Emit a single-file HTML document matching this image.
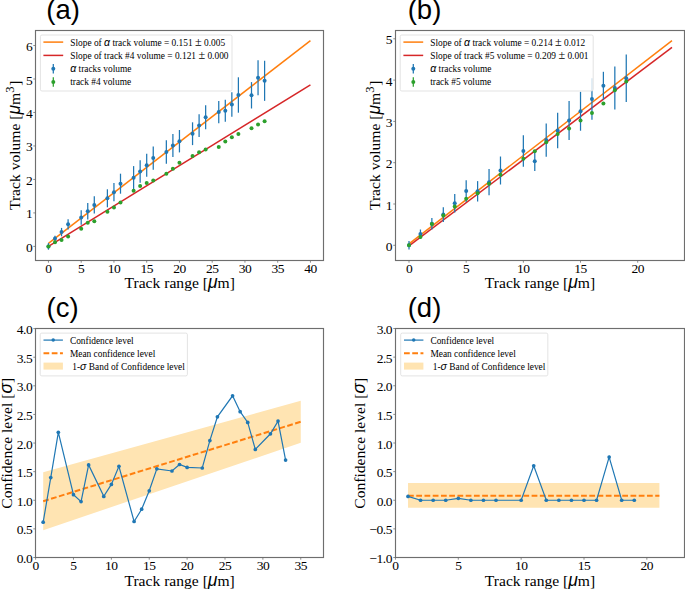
<!DOCTYPE html><html><head><meta charset="utf-8"><style>
html,body{margin:0;padding:0;background:#fff;overflow:hidden;}
svg{display:block;}
.tk{font-family:'Liberation Serif', serif;font-size:13.5px;fill:#000;}
.lb{font-family:'Liberation Serif', serif;font-size:15.6px;fill:#000;}
.lg{font-family:'Liberation Serif', serif;font-size:9.4px;fill:#000;}
.gk{font-family:'Liberation Sans', sans-serif;font-style:italic;font-size:1.12em;}
.pm{font-size:1.3em;}
.tk{letter-spacing:-0.5px;}
.tt{font-family:'Liberation Sans', sans-serif;font-size:27.5px;fill:#000;}
</style></head><body>
<svg width="685" height="589" viewBox="0 0 685 589">
<rect width="685" height="589" fill="#fff"/>
<polyline points="48.45,243.39 310.45,40.63" fill="none" stroke="#ff7f0e" stroke-width="1.5" />
<polyline points="48.45,246.4 310.45,84.89" fill="none" stroke="#d62728" stroke-width="1.5" />
<line x1="48.45" y1="243.1" x2="48.45" y2="249.7" stroke="#1f77b4" stroke-width="1.25"/>
<circle cx="48.45" cy="246.4" r="2.0" fill="#1f77b4"/>
<line x1="55" y1="235.8" x2="55" y2="241.2" stroke="#1f77b4" stroke-width="1.25"/>
<circle cx="55" cy="238.5" r="2.0" fill="#1f77b4"/>
<line x1="61.55" y1="227.9" x2="61.55" y2="236.3" stroke="#1f77b4" stroke-width="1.25"/>
<circle cx="61.55" cy="232.1" r="2.0" fill="#1f77b4"/>
<line x1="68.1" y1="219.2" x2="68.1" y2="229.4" stroke="#1f77b4" stroke-width="1.25"/>
<circle cx="68.1" cy="224.3" r="2.0" fill="#1f77b4"/>
<line x1="81.2" y1="210.21" x2="81.2" y2="224.81" stroke="#1f77b4" stroke-width="1.25"/>
<circle cx="81.2" cy="217.51" r="2.0" fill="#1f77b4"/>
<line x1="87.75" y1="202.91" x2="87.75" y2="219.51" stroke="#1f77b4" stroke-width="1.25"/>
<circle cx="87.75" cy="211.21" r="2.0" fill="#1f77b4"/>
<line x1="94.3" y1="196.18" x2="94.3" y2="213.58" stroke="#1f77b4" stroke-width="1.25"/>
<circle cx="94.3" cy="204.88" r="2.0" fill="#1f77b4"/>
<line x1="107.4" y1="189.29" x2="107.4" y2="207.29" stroke="#1f77b4" stroke-width="1.25"/>
<circle cx="107.4" cy="198.29" r="2.0" fill="#1f77b4"/>
<line x1="113.95" y1="183.05" x2="113.95" y2="201.35" stroke="#1f77b4" stroke-width="1.25"/>
<circle cx="113.95" cy="192.2" r="2.0" fill="#1f77b4"/>
<line x1="120.5" y1="173.69" x2="120.5" y2="193.69" stroke="#1f77b4" stroke-width="1.25"/>
<circle cx="120.5" cy="183.69" r="2.0" fill="#1f77b4"/>
<line x1="133.6" y1="166.1" x2="133.6" y2="189.5" stroke="#1f77b4" stroke-width="1.25"/>
<circle cx="133.6" cy="177.8" r="2.0" fill="#1f77b4"/>
<line x1="140.15" y1="160.15" x2="140.15" y2="182.65" stroke="#1f77b4" stroke-width="1.25"/>
<circle cx="140.15" cy="171.4" r="2.0" fill="#1f77b4"/>
<line x1="146.7" y1="153.76" x2="146.7" y2="176.86" stroke="#1f77b4" stroke-width="1.25"/>
<circle cx="146.7" cy="165.31" r="2.0" fill="#1f77b4"/>
<line x1="153.25" y1="146.41" x2="153.25" y2="169.81" stroke="#1f77b4" stroke-width="1.25"/>
<circle cx="153.25" cy="158.11" r="2.0" fill="#1f77b4"/>
<line x1="166.35" y1="140.24" x2="166.35" y2="163.74" stroke="#1f77b4" stroke-width="1.25"/>
<circle cx="166.35" cy="151.99" r="2.0" fill="#1f77b4"/>
<line x1="172.9" y1="133.94" x2="172.9" y2="157.04" stroke="#1f77b4" stroke-width="1.25"/>
<circle cx="172.9" cy="145.49" r="2.0" fill="#1f77b4"/>
<line x1="179.45" y1="130.01" x2="179.45" y2="152.41" stroke="#1f77b4" stroke-width="1.25"/>
<circle cx="179.45" cy="141.21" r="2.0" fill="#1f77b4"/>
<line x1="192.55" y1="122.31" x2="192.55" y2="145.11" stroke="#1f77b4" stroke-width="1.25"/>
<circle cx="192.55" cy="133.71" r="2.0" fill="#1f77b4"/>
<line x1="199.1" y1="114.25" x2="199.1" y2="136.95" stroke="#1f77b4" stroke-width="1.25"/>
<circle cx="199.1" cy="125.6" r="2.0" fill="#1f77b4"/>
<line x1="205.65" y1="105.15" x2="205.65" y2="129.25" stroke="#1f77b4" stroke-width="1.25"/>
<circle cx="205.65" cy="117.2" r="2.0" fill="#1f77b4"/>
<line x1="218.75" y1="100.91" x2="218.75" y2="123.31" stroke="#1f77b4" stroke-width="1.25"/>
<circle cx="218.75" cy="112.11" r="2.0" fill="#1f77b4"/>
<line x1="225.3" y1="99.76" x2="225.3" y2="121.86" stroke="#1f77b4" stroke-width="1.25"/>
<circle cx="225.3" cy="110.81" r="2.0" fill="#1f77b4"/>
<line x1="231.85" y1="92.36" x2="231.85" y2="116.66" stroke="#1f77b4" stroke-width="1.25"/>
<circle cx="231.85" cy="104.51" r="2.0" fill="#1f77b4"/>
<line x1="238.4" y1="77.3" x2="238.4" y2="112.7" stroke="#1f77b4" stroke-width="1.25"/>
<circle cx="238.4" cy="95" r="2.0" fill="#1f77b4"/>
<line x1="251.5" y1="82.1" x2="251.5" y2="108.5" stroke="#1f77b4" stroke-width="1.25"/>
<circle cx="251.5" cy="95.3" r="2.0" fill="#1f77b4"/>
<line x1="258.05" y1="60.24" x2="258.05" y2="95.34" stroke="#1f77b4" stroke-width="1.25"/>
<circle cx="258.05" cy="77.79" r="2.0" fill="#1f77b4"/>
<line x1="264.6" y1="60.76" x2="264.6" y2="100.86" stroke="#1f77b4" stroke-width="1.25"/>
<circle cx="264.6" cy="80.81" r="2.0" fill="#1f77b4"/>
<circle cx="48.45" cy="246.4" r="2.0" fill="#2ca02c"/>
<circle cx="55" cy="242.32" r="2.0" fill="#2ca02c"/>
<circle cx="61.55" cy="240.01" r="2.0" fill="#2ca02c"/>
<circle cx="68.1" cy="236.49" r="2.0" fill="#2ca02c"/>
<circle cx="81.2" cy="228.69" r="2.0" fill="#2ca02c"/>
<circle cx="87.75" cy="222.7" r="2.0" fill="#2ca02c"/>
<circle cx="94.3" cy="221.29" r="2.0" fill="#2ca02c"/>
<circle cx="107.4" cy="211.82" r="2.0" fill="#2ca02c"/>
<circle cx="113.95" cy="207.4" r="2.0" fill="#2ca02c"/>
<circle cx="120.5" cy="202.41" r="2.0" fill="#2ca02c"/>
<circle cx="133.6" cy="190.69" r="2.0" fill="#2ca02c"/>
<circle cx="140.15" cy="186.1" r="2.0" fill="#2ca02c"/>
<circle cx="146.7" cy="182.99" r="2.0" fill="#2ca02c"/>
<circle cx="153.25" cy="180.51" r="2.0" fill="#2ca02c"/>
<circle cx="166.35" cy="173.71" r="2.0" fill="#2ca02c"/>
<circle cx="172.9" cy="168.69" r="2.0" fill="#2ca02c"/>
<circle cx="179.45" cy="162.63" r="2.0" fill="#2ca02c"/>
<circle cx="192.55" cy="155.9" r="2.0" fill="#2ca02c"/>
<circle cx="199.1" cy="152.19" r="2.0" fill="#2ca02c"/>
<circle cx="205.65" cy="149.51" r="2.0" fill="#2ca02c"/>
<circle cx="218.75" cy="147" r="2.0" fill="#2ca02c"/>
<circle cx="225.3" cy="141.61" r="2.0" fill="#2ca02c"/>
<circle cx="231.85" cy="137.19" r="2.0" fill="#2ca02c"/>
<circle cx="238.4" cy="134.07" r="2.0" fill="#2ca02c"/>
<circle cx="251.5" cy="128.22" r="2.0" fill="#2ca02c"/>
<circle cx="258.05" cy="124.4" r="2.0" fill="#2ca02c"/>
<circle cx="264.6" cy="121.29" r="2.0" fill="#2ca02c"/>
<rect x="35.5" y="30.5" width="288" height="230" fill="none" stroke="#6e6e6e" stroke-width="1.15"/>
<line x1="48.45" y1="260.5" x2="48.45" y2="262.7" stroke="#6e6e6e" stroke-width="0.8"/>
<text x="48.45" y="272.8" text-anchor="middle" class="tk">0</text>
<line x1="81.2" y1="260.5" x2="81.2" y2="262.7" stroke="#6e6e6e" stroke-width="0.8"/>
<text x="81.2" y="272.8" text-anchor="middle" class="tk">5</text>
<line x1="113.95" y1="260.5" x2="113.95" y2="262.7" stroke="#6e6e6e" stroke-width="0.8"/>
<text x="113.95" y="272.8" text-anchor="middle" class="tk">10</text>
<line x1="146.7" y1="260.5" x2="146.7" y2="262.7" stroke="#6e6e6e" stroke-width="0.8"/>
<text x="146.7" y="272.8" text-anchor="middle" class="tk">15</text>
<line x1="179.45" y1="260.5" x2="179.45" y2="262.7" stroke="#6e6e6e" stroke-width="0.8"/>
<text x="179.45" y="272.8" text-anchor="middle" class="tk">20</text>
<line x1="212.2" y1="260.5" x2="212.2" y2="262.7" stroke="#6e6e6e" stroke-width="0.8"/>
<text x="212.2" y="272.8" text-anchor="middle" class="tk">25</text>
<line x1="244.95" y1="260.5" x2="244.95" y2="262.7" stroke="#6e6e6e" stroke-width="0.8"/>
<text x="244.95" y="272.8" text-anchor="middle" class="tk">30</text>
<line x1="277.7" y1="260.5" x2="277.7" y2="262.7" stroke="#6e6e6e" stroke-width="0.8"/>
<text x="277.7" y="272.8" text-anchor="middle" class="tk">35</text>
<line x1="310.45" y1="260.5" x2="310.45" y2="262.7" stroke="#6e6e6e" stroke-width="0.8"/>
<text x="310.45" y="272.8" text-anchor="middle" class="tk">40</text>
<line x1="33.3" y1="246.4" x2="35.5" y2="246.4" stroke="#6e6e6e" stroke-width="0.8"/>
<text x="32.2" y="251.9" text-anchor="end" class="tk">0</text>
<line x1="33.3" y1="212.92" x2="35.5" y2="212.92" stroke="#6e6e6e" stroke-width="0.8"/>
<text x="32.2" y="218.42" text-anchor="end" class="tk">1</text>
<line x1="33.3" y1="179.44" x2="35.5" y2="179.44" stroke="#6e6e6e" stroke-width="0.8"/>
<text x="32.2" y="184.94" text-anchor="end" class="tk">2</text>
<line x1="33.3" y1="145.96" x2="35.5" y2="145.96" stroke="#6e6e6e" stroke-width="0.8"/>
<text x="32.2" y="151.46" text-anchor="end" class="tk">3</text>
<line x1="33.3" y1="112.48" x2="35.5" y2="112.48" stroke="#6e6e6e" stroke-width="0.8"/>
<text x="32.2" y="117.98" text-anchor="end" class="tk">4</text>
<line x1="33.3" y1="79" x2="35.5" y2="79" stroke="#6e6e6e" stroke-width="0.8"/>
<text x="32.2" y="84.5" text-anchor="end" class="tk">5</text>
<line x1="33.3" y1="45.52" x2="35.5" y2="45.52" stroke="#6e6e6e" stroke-width="0.8"/>
<text x="32.2" y="51.02" text-anchor="end" class="tk">6</text>
<rect x="40.4" y="35" width="191.6" height="56" rx="1.6" ry="1.6" fill="#fff" fill-opacity="0.8" stroke="#dcdcdc" stroke-width="0.8"/>
<line x1="43.4" y1="42.1" x2="63.2" y2="42.1" stroke="#ff7f0e" stroke-width="1.5" />
<line x1="43.4" y1="55.4" x2="63.2" y2="55.4" stroke="#d62728" stroke-width="1.5" />
<line x1="53.3" y1="64.1" x2="53.3" y2="73.5" stroke="#1f77b4" stroke-width="1.25"/>
<circle cx="53.3" cy="68.8" r="2.0" fill="#1f77b4"/>
<line x1="53.3" y1="77.3" x2="53.3" y2="86.7" stroke="#2ca02c" stroke-width="1.25"/>
<circle cx="53.3" cy="82" r="2.0" fill="#2ca02c"/>
<text x="70.2" y="45.5" class="lg">Slope of <tspan class="gk">α</tspan> track volume = 0.151 <tspan class="pm">±</tspan> 0.005</text>
<text x="70.2" y="58.7" class="lg">Slope of track #4 volume = 0.121 <tspan class="pm">±</tspan> 0.000</text>
<text x="70.2" y="72" class="lg"><tspan class="gk">α</tspan> tracks volume</text>
<text x="70.2" y="85.2" class="lg">track #4 volume</text>
<text x="179.7" y="287.9" text-anchor="middle" class="lb">Track range [<tspan class="gk">μ</tspan>m]</text>
<text transform="translate(20.4,145.3) rotate(-90)" text-anchor="middle" class="lb">Track volume [<tspan class="gk">μ</tspan>m<tspan font-size="12.5" dy="-6.5">3</tspan><tspan dy="6.5" dx="0.8">]</tspan></text>
<text x="46.3" y="19.3" class="tt">(a)</text>
<polyline points="409,243.85 672,40.58" fill="none" stroke="#ff7f0e" stroke-width="1.5" />
<polyline points="409,245.92 672,47.39" fill="none" stroke="#d62728" stroke-width="1.5" />
<line x1="409" y1="241.1" x2="409" y2="249.5" stroke="#1f77b4" stroke-width="1.25"/>
<circle cx="409" cy="245.3" r="2.0" fill="#1f77b4"/>
<line x1="420.44" y1="229.51" x2="420.44" y2="238.71" stroke="#1f77b4" stroke-width="1.25"/>
<circle cx="420.44" cy="234.11" r="2.0" fill="#1f77b4"/>
<line x1="431.87" y1="218.02" x2="431.87" y2="229.62" stroke="#1f77b4" stroke-width="1.25"/>
<circle cx="431.87" cy="223.82" r="2.0" fill="#1f77b4"/>
<line x1="443.31" y1="207.26" x2="443.31" y2="221.96" stroke="#1f77b4" stroke-width="1.25"/>
<circle cx="443.31" cy="214.61" r="2.0" fill="#1f77b4"/>
<line x1="454.74" y1="194" x2="454.74" y2="212.6" stroke="#1f77b4" stroke-width="1.25"/>
<circle cx="454.74" cy="203.3" r="2.0" fill="#1f77b4"/>
<line x1="466.18" y1="180.26" x2="466.18" y2="201.96" stroke="#1f77b4" stroke-width="1.25"/>
<circle cx="466.18" cy="191.11" r="2.0" fill="#1f77b4"/>
<line x1="477.61" y1="181.12" x2="477.61" y2="201.52" stroke="#1f77b4" stroke-width="1.25"/>
<circle cx="477.61" cy="191.32" r="2.0" fill="#1f77b4"/>
<line x1="489.05" y1="169.09" x2="489.05" y2="195.29" stroke="#1f77b4" stroke-width="1.25"/>
<circle cx="489.05" cy="182.19" r="2.0" fill="#1f77b4"/>
<line x1="500.48" y1="156.51" x2="500.48" y2="184.51" stroke="#1f77b4" stroke-width="1.25"/>
<circle cx="500.48" cy="170.51" r="2.0" fill="#1f77b4"/>
<line x1="523.35" y1="135.16" x2="523.35" y2="166.86" stroke="#1f77b4" stroke-width="1.25"/>
<circle cx="523.35" cy="151.01" r="2.0" fill="#1f77b4"/>
<line x1="534.78" y1="151.46" x2="534.78" y2="170.96" stroke="#1f77b4" stroke-width="1.25"/>
<circle cx="534.78" cy="161.21" r="2.0" fill="#1f77b4"/>
<line x1="546.22" y1="123.51" x2="546.22" y2="156.71" stroke="#1f77b4" stroke-width="1.25"/>
<circle cx="546.22" cy="140.11" r="2.0" fill="#1f77b4"/>
<line x1="557.65" y1="112.69" x2="557.65" y2="148.29" stroke="#1f77b4" stroke-width="1.25"/>
<circle cx="557.65" cy="130.49" r="2.0" fill="#1f77b4"/>
<line x1="569.09" y1="101.12" x2="569.09" y2="140.12" stroke="#1f77b4" stroke-width="1.25"/>
<circle cx="569.09" cy="120.62" r="2.0" fill="#1f77b4"/>
<line x1="580.52" y1="91.83" x2="580.52" y2="130.73" stroke="#1f77b4" stroke-width="1.25"/>
<circle cx="580.52" cy="111.28" r="2.0" fill="#1f77b4"/>
<line x1="591.96" y1="78.27" x2="591.96" y2="119.77" stroke="#1f77b4" stroke-width="1.25"/>
<circle cx="591.96" cy="99.02" r="2.0" fill="#1f77b4"/>
<line x1="603.39" y1="71.8" x2="603.39" y2="99.8" stroke="#1f77b4" stroke-width="1.25"/>
<circle cx="603.39" cy="85.8" r="2.0" fill="#1f77b4"/>
<line x1="614.83" y1="66.49" x2="614.83" y2="109.49" stroke="#1f77b4" stroke-width="1.25"/>
<circle cx="614.83" cy="87.99" r="2.0" fill="#1f77b4"/>
<line x1="626.26" y1="54.5" x2="626.26" y2="101.9" stroke="#1f77b4" stroke-width="1.25"/>
<circle cx="626.26" cy="78.2" r="2.0" fill="#1f77b4"/>
<circle cx="409" cy="245.3" r="2.0" fill="#2ca02c"/>
<circle cx="420.44" cy="237" r="2.0" fill="#2ca02c"/>
<circle cx="431.87" cy="224.11" r="2.0" fill="#2ca02c"/>
<circle cx="443.31" cy="215.48" r="2.0" fill="#2ca02c"/>
<circle cx="454.74" cy="206.4" r="2.0" fill="#2ca02c"/>
<circle cx="466.18" cy="198.8" r="2.0" fill="#2ca02c"/>
<circle cx="477.61" cy="193.3" r="2.0" fill="#2ca02c"/>
<circle cx="489.05" cy="183.8" r="2.0" fill="#2ca02c"/>
<circle cx="500.48" cy="174.72" r="2.0" fill="#2ca02c"/>
<circle cx="523.35" cy="158.69" r="2.0" fill="#2ca02c"/>
<circle cx="534.78" cy="151.22" r="2.0" fill="#2ca02c"/>
<circle cx="546.22" cy="142.3" r="2.0" fill="#2ca02c"/>
<circle cx="557.65" cy="133.91" r="2.0" fill="#2ca02c"/>
<circle cx="569.09" cy="128.38" r="2.0" fill="#2ca02c"/>
<circle cx="580.52" cy="120.62" r="2.0" fill="#2ca02c"/>
<circle cx="591.96" cy="113.02" r="2.0" fill="#2ca02c"/>
<circle cx="603.39" cy="103.6" r="2.0" fill="#2ca02c"/>
<circle cx="614.83" cy="90.22" r="2.0" fill="#2ca02c"/>
<circle cx="626.26" cy="81.59" r="2.0" fill="#2ca02c"/>
<rect x="395.5" y="30.5" width="289" height="230" fill="none" stroke="#6e6e6e" stroke-width="1.15"/>
<line x1="409" y1="260.5" x2="409" y2="262.7" stroke="#6e6e6e" stroke-width="0.8"/>
<text x="409" y="272.8" text-anchor="middle" class="tk">0</text>
<line x1="466.18" y1="260.5" x2="466.18" y2="262.7" stroke="#6e6e6e" stroke-width="0.8"/>
<text x="466.18" y="272.8" text-anchor="middle" class="tk">5</text>
<line x1="523.35" y1="260.5" x2="523.35" y2="262.7" stroke="#6e6e6e" stroke-width="0.8"/>
<text x="523.35" y="272.8" text-anchor="middle" class="tk">10</text>
<line x1="580.52" y1="260.5" x2="580.52" y2="262.7" stroke="#6e6e6e" stroke-width="0.8"/>
<text x="580.52" y="272.8" text-anchor="middle" class="tk">15</text>
<line x1="637.7" y1="260.5" x2="637.7" y2="262.7" stroke="#6e6e6e" stroke-width="0.8"/>
<text x="637.7" y="272.8" text-anchor="middle" class="tk">20</text>
<line x1="393.3" y1="245.3" x2="395.5" y2="245.3" stroke="#6e6e6e" stroke-width="0.8"/>
<text x="392" y="250.8" text-anchor="end" class="tk">0</text>
<line x1="393.3" y1="204" x2="395.5" y2="204" stroke="#6e6e6e" stroke-width="0.8"/>
<text x="392" y="209.5" text-anchor="end" class="tk">1</text>
<line x1="393.3" y1="162.7" x2="395.5" y2="162.7" stroke="#6e6e6e" stroke-width="0.8"/>
<text x="392" y="168.2" text-anchor="end" class="tk">2</text>
<line x1="393.3" y1="121.4" x2="395.5" y2="121.4" stroke="#6e6e6e" stroke-width="0.8"/>
<text x="392" y="126.9" text-anchor="end" class="tk">3</text>
<line x1="393.3" y1="80.1" x2="395.5" y2="80.1" stroke="#6e6e6e" stroke-width="0.8"/>
<text x="392" y="85.6" text-anchor="end" class="tk">4</text>
<line x1="393.3" y1="38.8" x2="395.5" y2="38.8" stroke="#6e6e6e" stroke-width="0.8"/>
<text x="392" y="44.3" text-anchor="end" class="tk">5</text>
<rect x="400.2" y="35" width="193" height="56" rx="1.6" ry="1.6" fill="#fff" fill-opacity="0.8" stroke="#dcdcdc" stroke-width="0.8"/>
<line x1="403.4" y1="42.1" x2="423.2" y2="42.1" stroke="#ff7f0e" stroke-width="1.5" />
<line x1="403.4" y1="55.4" x2="423.2" y2="55.4" stroke="#d62728" stroke-width="1.5" />
<line x1="413.3" y1="64.1" x2="413.3" y2="73.5" stroke="#1f77b4" stroke-width="1.25"/>
<circle cx="413.3" cy="68.8" r="2.0" fill="#1f77b4"/>
<line x1="413.3" y1="77.3" x2="413.3" y2="86.7" stroke="#2ca02c" stroke-width="1.25"/>
<circle cx="413.3" cy="82" r="2.0" fill="#2ca02c"/>
<text x="430.2" y="45.5" class="lg">Slope of <tspan class="gk">α</tspan> track volume = 0.214 <tspan class="pm">±</tspan> 0.012</text>
<text x="430.2" y="58.7" class="lg">Slope of track #5 volume = 0.209 <tspan class="pm">±</tspan> 0.001</text>
<text x="430.2" y="72" class="lg"><tspan class="gk">α</tspan> tracks volume</text>
<text x="430.2" y="85.2" class="lg">track #5 volume</text>
<text x="540" y="287.9" text-anchor="middle" class="lb">Track range [<tspan class="gk">μ</tspan>m]</text>
<text transform="translate(380.3,145.3) rotate(-90)" text-anchor="middle" class="lb">Track volume [<tspan class="gk">μ</tspan>m<tspan font-size="12.5" dy="-6.5">3</tspan><tspan dy="6.5" dx="0.8">]</tspan></text>
<text x="407.7" y="19.3" class="tt">(b)</text>
<polygon points="43.18,472.23 300.76,400.7 300.76,442.82 43.18,530.2" fill="#ffe4b2"/>
<polyline points="43.18,501.22 300.76,421.76" fill="none" stroke="#ff7f0e" stroke-width="2.0" stroke-dasharray="5.75 2.49"/>
<polyline points="43.18,522.19 50.75,477.61 58.33,432.29 73.48,494.67 81.06,501.59 88.63,464.91 103.78,496.38 111.36,484.42 118.94,466.23 134.09,521.51 141.66,509.2 149.24,490.78 156.82,468.8 171.97,470.98 179.54,464.51 187.12,467.43 202.27,468 209.85,440.59 217.42,416.78 232.58,395.78 240.15,411.69 247.73,422.39 255.3,449.4 270.46,433.78 278.03,421.08 285.61,460.1" fill="none" stroke="#1f77b4" stroke-width="1.2" />
<circle cx="43.18" cy="522.19" r="1.85" fill="#1f77b4"/>
<circle cx="50.75" cy="477.61" r="1.85" fill="#1f77b4"/>
<circle cx="58.33" cy="432.29" r="1.85" fill="#1f77b4"/>
<circle cx="73.48" cy="494.67" r="1.85" fill="#1f77b4"/>
<circle cx="81.06" cy="501.59" r="1.85" fill="#1f77b4"/>
<circle cx="88.63" cy="464.91" r="1.85" fill="#1f77b4"/>
<circle cx="103.78" cy="496.38" r="1.85" fill="#1f77b4"/>
<circle cx="111.36" cy="484.42" r="1.85" fill="#1f77b4"/>
<circle cx="118.94" cy="466.23" r="1.85" fill="#1f77b4"/>
<circle cx="134.09" cy="521.51" r="1.85" fill="#1f77b4"/>
<circle cx="141.66" cy="509.2" r="1.85" fill="#1f77b4"/>
<circle cx="149.24" cy="490.78" r="1.85" fill="#1f77b4"/>
<circle cx="156.82" cy="468.8" r="1.85" fill="#1f77b4"/>
<circle cx="171.97" cy="470.98" r="1.85" fill="#1f77b4"/>
<circle cx="179.54" cy="464.51" r="1.85" fill="#1f77b4"/>
<circle cx="187.12" cy="467.43" r="1.85" fill="#1f77b4"/>
<circle cx="202.27" cy="468" r="1.85" fill="#1f77b4"/>
<circle cx="209.85" cy="440.59" r="1.85" fill="#1f77b4"/>
<circle cx="217.42" cy="416.78" r="1.85" fill="#1f77b4"/>
<circle cx="232.58" cy="395.78" r="1.85" fill="#1f77b4"/>
<circle cx="240.15" cy="411.69" r="1.85" fill="#1f77b4"/>
<circle cx="247.73" cy="422.39" r="1.85" fill="#1f77b4"/>
<circle cx="255.3" cy="449.4" r="1.85" fill="#1f77b4"/>
<circle cx="270.46" cy="433.78" r="1.85" fill="#1f77b4"/>
<circle cx="278.03" cy="421.08" r="1.85" fill="#1f77b4"/>
<circle cx="285.61" cy="460.1" r="1.85" fill="#1f77b4"/>
<rect x="35.5" y="328.5" width="288" height="229" fill="none" stroke="#6e6e6e" stroke-width="1.15"/>
<line x1="35.6" y1="557.5" x2="35.6" y2="559.7" stroke="#6e6e6e" stroke-width="0.8"/>
<text x="35.6" y="570" text-anchor="middle" class="tk">0</text>
<line x1="73.48" y1="557.5" x2="73.48" y2="559.7" stroke="#6e6e6e" stroke-width="0.8"/>
<text x="73.48" y="570" text-anchor="middle" class="tk">5</text>
<line x1="111.36" y1="557.5" x2="111.36" y2="559.7" stroke="#6e6e6e" stroke-width="0.8"/>
<text x="111.36" y="570" text-anchor="middle" class="tk">10</text>
<line x1="149.24" y1="557.5" x2="149.24" y2="559.7" stroke="#6e6e6e" stroke-width="0.8"/>
<text x="149.24" y="570" text-anchor="middle" class="tk">15</text>
<line x1="187.12" y1="557.5" x2="187.12" y2="559.7" stroke="#6e6e6e" stroke-width="0.8"/>
<text x="187.12" y="570" text-anchor="middle" class="tk">20</text>
<line x1="225" y1="557.5" x2="225" y2="559.7" stroke="#6e6e6e" stroke-width="0.8"/>
<text x="225" y="570" text-anchor="middle" class="tk">25</text>
<line x1="262.88" y1="557.5" x2="262.88" y2="559.7" stroke="#6e6e6e" stroke-width="0.8"/>
<text x="262.88" y="570" text-anchor="middle" class="tk">30</text>
<line x1="300.76" y1="557.5" x2="300.76" y2="559.7" stroke="#6e6e6e" stroke-width="0.8"/>
<text x="300.76" y="570" text-anchor="middle" class="tk">35</text>
<line x1="33.3" y1="557.5" x2="35.5" y2="557.5" stroke="#6e6e6e" stroke-width="0.8"/>
<text x="32.2" y="563" text-anchor="end" class="tk">0.0</text>
<line x1="33.3" y1="528.89" x2="35.5" y2="528.89" stroke="#6e6e6e" stroke-width="0.8"/>
<text x="32.2" y="534.39" text-anchor="end" class="tk">0.5</text>
<line x1="33.3" y1="500.27" x2="35.5" y2="500.27" stroke="#6e6e6e" stroke-width="0.8"/>
<text x="32.2" y="505.77" text-anchor="end" class="tk">1.0</text>
<line x1="33.3" y1="471.66" x2="35.5" y2="471.66" stroke="#6e6e6e" stroke-width="0.8"/>
<text x="32.2" y="477.16" text-anchor="end" class="tk">1.5</text>
<line x1="33.3" y1="443.05" x2="35.5" y2="443.05" stroke="#6e6e6e" stroke-width="0.8"/>
<text x="32.2" y="448.55" text-anchor="end" class="tk">2.0</text>
<line x1="33.3" y1="414.44" x2="35.5" y2="414.44" stroke="#6e6e6e" stroke-width="0.8"/>
<text x="32.2" y="419.94" text-anchor="end" class="tk">2.5</text>
<line x1="33.3" y1="385.82" x2="35.5" y2="385.82" stroke="#6e6e6e" stroke-width="0.8"/>
<text x="32.2" y="391.32" text-anchor="end" class="tk">3.0</text>
<line x1="33.3" y1="357.21" x2="35.5" y2="357.21" stroke="#6e6e6e" stroke-width="0.8"/>
<text x="32.2" y="362.71" text-anchor="end" class="tk">3.5</text>
<line x1="33.3" y1="328.6" x2="35.5" y2="328.6" stroke="#6e6e6e" stroke-width="0.8"/>
<text x="32.2" y="334.1" text-anchor="end" class="tk">4.0</text>
<rect x="40.2" y="333.1" width="147.2" height="42.8" rx="1.6" ry="1.6" fill="#fff" fill-opacity="0.8" stroke="#dcdcdc" stroke-width="0.8"/>
<line x1="43.5" y1="340.1" x2="62.9" y2="340.1" stroke="#1f77b4" stroke-width="1.2" />
<circle cx="53.2" cy="340.1" r="1.75" fill="#1f77b4"/>
<line x1="43.5" y1="353.2" x2="62.9" y2="353.2" stroke="#ff7f0e" stroke-width="2.0" stroke-dasharray="5.75 2.49"/>
<rect x="43.5" y="362.6" width="19.4" height="7" fill="#ffe4b2"/>
<text x="69.9" y="343.7" class="lg">Confidence level</text>
<text x="69.9" y="356.7" class="lg">Mean confidence level</text>
<text x="72.3" y="369.7" class="lg">1-<tspan class="gk">σ</tspan> Band of Confidence level</text>
<text x="179.6" y="585.5" text-anchor="middle" class="lb">Track range [<tspan class="gk">μ</tspan>m]</text>
<text transform="translate(11.5,443.3) rotate(-90)" text-anchor="middle" class="lb">Confidence level [<tspan class="gk">σ</tspan>]</text>
<text x="46.5" y="316.8" class="tt">(c)</text>
<polygon points="408.02,482.9 659.42,482.9 659.42,507.81 408.02,507.81" fill="#ffe4b2"/>
<polyline points="408.02,495.78 659.42,495.78" fill="none" stroke="#ff7f0e" stroke-width="2.0" stroke-dasharray="5.75 2.49"/>
<polyline points="408.02,496.41 420.59,500.25 433.16,500.25 445.73,500.25 458.3,498.3 470.87,500.25 483.44,500.25 496.01,500.25 521.15,500.25 533.72,465.79 546.29,500.25 558.86,500.25 571.43,500.25 584,500.25 596.57,500.25 609.14,457.08 621.71,500.25 634.28,500.25" fill="none" stroke="#1f77b4" stroke-width="1.2" />
<circle cx="408.02" cy="496.41" r="1.85" fill="#1f77b4"/>
<circle cx="420.59" cy="500.25" r="1.85" fill="#1f77b4"/>
<circle cx="433.16" cy="500.25" r="1.85" fill="#1f77b4"/>
<circle cx="445.73" cy="500.25" r="1.85" fill="#1f77b4"/>
<circle cx="458.3" cy="498.3" r="1.85" fill="#1f77b4"/>
<circle cx="470.87" cy="500.25" r="1.85" fill="#1f77b4"/>
<circle cx="483.44" cy="500.25" r="1.85" fill="#1f77b4"/>
<circle cx="496.01" cy="500.25" r="1.85" fill="#1f77b4"/>
<circle cx="521.15" cy="500.25" r="1.85" fill="#1f77b4"/>
<circle cx="533.72" cy="465.79" r="1.85" fill="#1f77b4"/>
<circle cx="546.29" cy="500.25" r="1.85" fill="#1f77b4"/>
<circle cx="558.86" cy="500.25" r="1.85" fill="#1f77b4"/>
<circle cx="571.43" cy="500.25" r="1.85" fill="#1f77b4"/>
<circle cx="584" cy="500.25" r="1.85" fill="#1f77b4"/>
<circle cx="596.57" cy="500.25" r="1.85" fill="#1f77b4"/>
<circle cx="609.14" cy="457.08" r="1.85" fill="#1f77b4"/>
<circle cx="621.71" cy="500.25" r="1.85" fill="#1f77b4"/>
<circle cx="634.28" cy="500.25" r="1.85" fill="#1f77b4"/>
<rect x="395.5" y="328.5" width="289" height="229" fill="none" stroke="#6e6e6e" stroke-width="1.15"/>
<line x1="395.45" y1="557.5" x2="395.45" y2="559.7" stroke="#6e6e6e" stroke-width="0.8"/>
<text x="395.45" y="570" text-anchor="middle" class="tk">0</text>
<line x1="458.3" y1="557.5" x2="458.3" y2="559.7" stroke="#6e6e6e" stroke-width="0.8"/>
<text x="458.3" y="570" text-anchor="middle" class="tk">5</text>
<line x1="521.15" y1="557.5" x2="521.15" y2="559.7" stroke="#6e6e6e" stroke-width="0.8"/>
<text x="521.15" y="570" text-anchor="middle" class="tk">10</text>
<line x1="584" y1="557.5" x2="584" y2="559.7" stroke="#6e6e6e" stroke-width="0.8"/>
<text x="584" y="570" text-anchor="middle" class="tk">15</text>
<line x1="646.85" y1="557.5" x2="646.85" y2="559.7" stroke="#6e6e6e" stroke-width="0.8"/>
<text x="646.85" y="570" text-anchor="middle" class="tk">20</text>
<line x1="393.3" y1="557.5" x2="395.5" y2="557.5" stroke="#6e6e6e" stroke-width="0.8"/>
<text x="392" y="563" text-anchor="end" class="tk">−1.0</text>
<line x1="393.3" y1="528.88" x2="395.5" y2="528.88" stroke="#6e6e6e" stroke-width="0.8"/>
<text x="392" y="534.38" text-anchor="end" class="tk">−0.5</text>
<line x1="393.3" y1="500.25" x2="395.5" y2="500.25" stroke="#6e6e6e" stroke-width="0.8"/>
<text x="392" y="505.75" text-anchor="end" class="tk">0.0</text>
<line x1="393.3" y1="471.62" x2="395.5" y2="471.62" stroke="#6e6e6e" stroke-width="0.8"/>
<text x="392" y="477.12" text-anchor="end" class="tk">0.5</text>
<line x1="393.3" y1="443" x2="395.5" y2="443" stroke="#6e6e6e" stroke-width="0.8"/>
<text x="392" y="448.5" text-anchor="end" class="tk">1.0</text>
<line x1="393.3" y1="414.38" x2="395.5" y2="414.38" stroke="#6e6e6e" stroke-width="0.8"/>
<text x="392" y="419.88" text-anchor="end" class="tk">1.5</text>
<line x1="393.3" y1="385.75" x2="395.5" y2="385.75" stroke="#6e6e6e" stroke-width="0.8"/>
<text x="392" y="391.25" text-anchor="end" class="tk">2.0</text>
<line x1="393.3" y1="357.12" x2="395.5" y2="357.12" stroke="#6e6e6e" stroke-width="0.8"/>
<text x="392" y="362.62" text-anchor="end" class="tk">2.5</text>
<line x1="393.3" y1="328.5" x2="395.5" y2="328.5" stroke="#6e6e6e" stroke-width="0.8"/>
<text x="392" y="334" text-anchor="end" class="tk">3.0</text>
<rect x="400.7" y="333.1" width="147.1" height="42.8" rx="1.6" ry="1.6" fill="#fff" fill-opacity="0.8" stroke="#dcdcdc" stroke-width="0.8"/>
<line x1="404" y1="340.1" x2="423.4" y2="340.1" stroke="#1f77b4" stroke-width="1.2" />
<circle cx="413.7" cy="340.1" r="1.75" fill="#1f77b4"/>
<line x1="404" y1="353.2" x2="423.4" y2="353.2" stroke="#ff7f0e" stroke-width="2.0" stroke-dasharray="5.75 2.49"/>
<rect x="404.0" y="362.6" width="19.4" height="7" fill="#ffe4b2"/>
<text x="430.4" y="343.7" class="lg">Confidence level</text>
<text x="430.4" y="356.7" class="lg">Mean confidence level</text>
<text x="432.8" y="369.7" class="lg">1-<tspan class="gk">σ</tspan> Band of Confidence level</text>
<text x="540" y="585.5" text-anchor="middle" class="lb">Track range [<tspan class="gk">μ</tspan>m]</text>
<text transform="translate(364.8,443.3) rotate(-90)" text-anchor="middle" class="lb">Confidence level [<tspan class="gk">σ</tspan>]</text>
<text x="407.7" y="316.8" class="tt">(d)</text>
</svg></body></html>
